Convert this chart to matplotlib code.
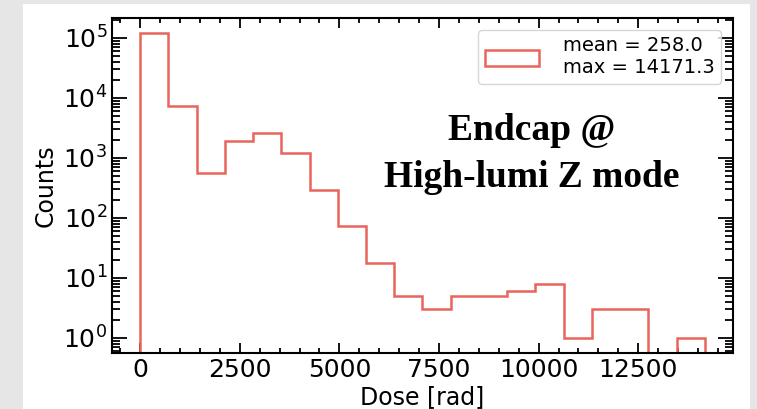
import numpy as np
import matplotlib
matplotlib.use("Agg")
import matplotlib.pyplot as plt
from matplotlib.patches import Rectangle
from matplotlib.ticker import MultipleLocator, LogLocator, NullFormatter

# histogramme de dose (endcap, high-lumi Z)
dose_max = 14171.3
dose_mean = 258.0
n_bins = 20
counts = [121000, 7200, 550, 1880, 2550, 1190, 297, 73, 18, 5,
          3, 5, 5, 6, 8, 1, 3, 3, 0, 1]

edges = np.linspace(0, dose_max, n_bins + 1)
centres = 0.5 * (edges[:-1] + edges[1:])

fig = plt.figure(figsize=(7.57, 4.09), dpi=100, facecolor="#e6e6e6")
# fond blanc de l'image d'origine
fig.patches.append(Rectangle((23 / 757, 0), (750 - 23) / 757, 405 / 409,
                             transform=fig.transFigure, facecolor="white",
                             edgecolor="none", zorder=-1))

ax = fig.add_axes([112 / 757, 56 / 409, 621 / 757, 335 / 409])
ax.set_zorder(1)
ax.hist(centres, bins=edges, weights=counts, histtype="step",
        color="#e8645c", linewidth=1.8,
        label=f"mean = {dose_mean:.1f}\nmax = {dose_max:.1f}")
ax.set_yscale("log")
ax.set_ylim(10 ** -0.25, 10 ** 5.33)

ax.set_xlabel("Dose [rad]", fontsize=17, labelpad=2)
ax.set_ylabel("Counts", fontsize=17)

ax.xaxis.set_major_locator(MultipleLocator(2500))
ax.xaxis.set_minor_locator(MultipleLocator(500))
ax.yaxis.set_minor_locator(LogLocator(base=10, subs=np.arange(2, 10), numticks=20))
ax.yaxis.set_minor_formatter(NullFormatter())

ax.tick_params(axis="both", which="both", direction="in", top=True, right=True,
               labelsize=18, width=1.3)
ax.tick_params(axis="x", which="major", length=7)
ax.tick_params(axis="x", which="minor", length=3.5)
ax.tick_params(axis="y", which="major", length=11)
ax.tick_params(axis="y", which="minor", length=6)
for s in ax.spines.values():
    s.set_linewidth(1.5)

ax.legend(loc="upper right", fontsize=14, handlelength=2.8, handleheight=0.9,
          handletextpad=1.2, borderaxespad=0.6, borderpad=0.35)

ax.text(0.676, 0.594, "Endcap @\nHigh-lumi Z mode", transform=ax.transAxes,
        ha="center", va="center", fontsize=27, fontweight="bold",
        family="Liberation Serif", linespacing=1.45)

fig.savefig("out.png", dpi=100, facecolor=fig.get_facecolor())
